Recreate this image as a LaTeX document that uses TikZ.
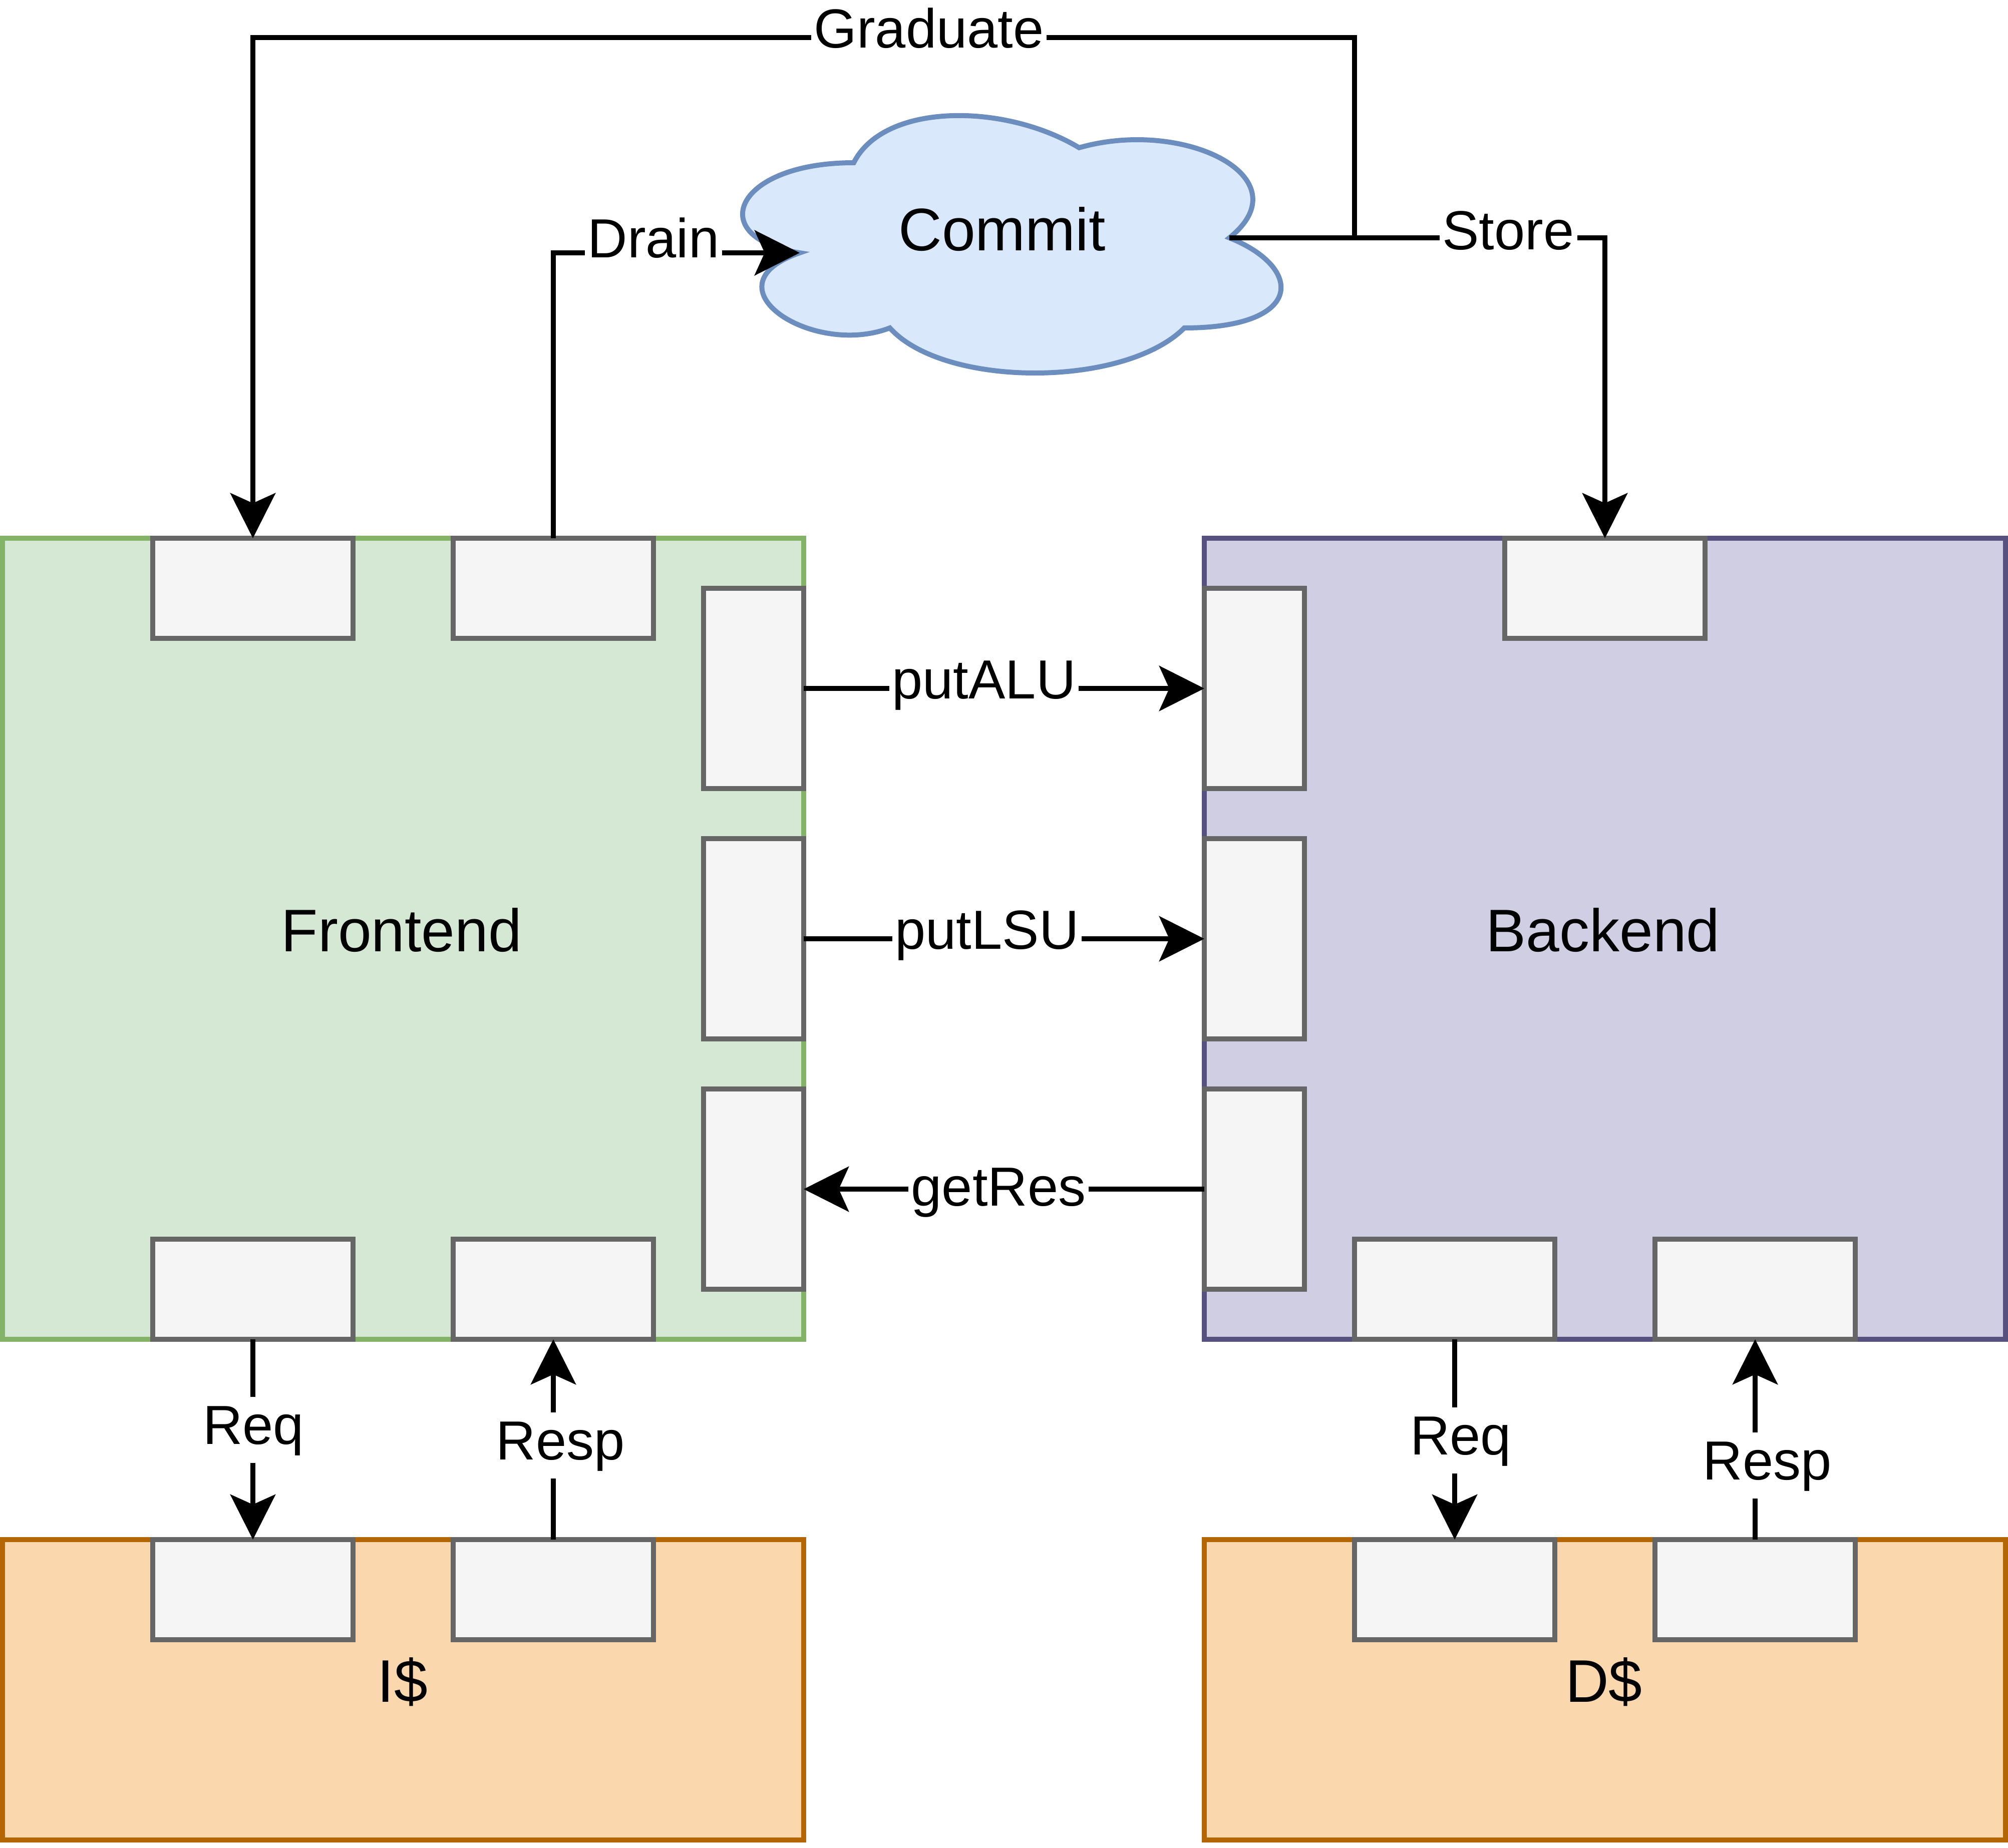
\documentclass[tikz,border=0pt]{standalone}
\usepackage{fontspec}
\setmainfont{Liberation Sans}
\usetikzlibrary{arrows.meta}
\definecolor{feFill}{HTML}{D5E8D4}
\definecolor{feLine}{HTML}{82B366}
\definecolor{beFill}{HTML}{D0CEE2}
\definecolor{beLine}{HTML}{56517E}
\definecolor{caFill}{HTML}{FAD7AC}
\definecolor{caLine}{HTML}{B46504}
\definecolor{ptFill}{HTML}{F5F5F5}
\definecolor{ptLine}{HTML}{666666}
\definecolor{clFill}{HTML}{DAE8FC}
\definecolor{clLine}{HTML}{6C8EBF}
\tikzset{
  box/.style={rectangle, line width=1pt, inner sep=0pt, outer sep=0pt},
  hport/.style={box, fill=ptFill, draw=ptLine, minimum width=40pt, minimum height=20pt},
  vport/.style={box, fill=ptFill, draw=ptLine, minimum width=20pt, minimum height=40pt},
  conn/.style={line width=1pt, draw=black},
  arr/.style={conn, -{Stealth[length=9pt,width=9pt,inset=2pt]}},
  lbl/.style={font=\fontsize{11}{13}\selectfont, fill=white, inner xsep=0.6pt, inner ysep=1.4pt,
              text height=8pt, text depth=2.4pt, anchor=base},
  title/.style={font=\fontsize{12}{14}\selectfont, inner sep=0pt, anchor=base}
}
\begin{document}
\begin{tikzpicture}[x=1pt, y=-1pt]
\useasboundingbox (0,0) rectangle (401,369);
% main blocks
\node[box, fill=feFill, draw=feLine, minimum width=160pt, minimum height=160pt] (front) at (80.5,187.5) {};
\node[box, fill=beFill, draw=beLine, minimum width=160pt, minimum height=160pt] (back) at (320.5,187.5) {};
\node[box, fill=caFill, draw=caLine, minimum width=160pt, minimum height=60pt] (icache) at (80.5,337.5) {};
\node[box, fill=caFill, draw=caLine, minimum width=160pt, minimum height=60pt] (dcache) at (320.5,337.5) {};
% titles
\node[title] (tFront) at (80.2,190) {Frontend};
\node[title] (tBack) at (320.1,190) {Backend};
\node[title] (tI) at (80.4,339.9) {I\$};
\node[title] (tD) at (320.3,339.9) {D\$};
% ports
\node[hport] (ft1) at (50.5,117.5) {};
\node[hport] (ft2) at (110.5,117.5) {};
\node[vport] (fr1) at (150.5,137.5) {};
\node[vport] (fr2) at (150.5,187.5) {};
\node[vport] (fr3) at (150.5,237.5) {};
\node[hport] (fb1) at (50.5,257.5) {};
\node[hport] (fb2) at (110.5,257.5) {};
\node[vport] (bl1) at (250.5,137.5) {};
\node[vport] (bl2) at (250.5,187.5) {};
\node[vport] (bl3) at (250.5,237.5) {};
\node[hport] (bt1) at (320.5,117.5) {};
\node[hport] (bb1) at (290.5,257.5) {};
\node[hport] (bb2) at (350.5,257.5) {};
\node[hport] (it1) at (50.5,317.5) {};
\node[hport] (it2) at (110.5,317.5) {};
\node[hport] (dt1) at (290.5,317.5) {};
\node[hport] (dt2) at (350.5,317.5) {};
% cloud
\path[fill=clFill, draw=clLine, line width=1pt]
  (170.5,32.5)
  .. controls (146.5,32.5) and (140.5,47.5) .. (159.7,50.5)
  .. controls (140.5,57.1) and (162.1,71.5) .. (177.7,65.5)
  .. controls (188.5,77.5) and (224.5,77.5) .. (236.5,65.5)
  .. controls (260.5,65.5) and (260.5,53.5) .. (245.5,47.5)
  .. controls (260.5,35.5) and (236.5,23.5) .. (215.5,29.5)
  .. controls (200.5,20.5) and (176.5,20.5) .. (170.5,32.5) -- cycle;
\coordinate (cloudL) at (159.7,50.5);
\coordinate (cloudR) at (245.5,47.5);
\node[title] (commit) at (200.1,50.1) {Commit};
% connectors
\draw[arr] (cloudR) -- (270.5,47.5) -- (270.5,7.5) -| (ft1.north);
\draw[arr] (cloudR) -| (bt1.north);
\draw[arr] (ft2.north) |- (cloudL);
\draw[arr] (fr1.east) -- (bl1.west);
\draw[arr] (fr2.east) -- (bl2.west);
\draw[arr] (bl3.west) -- (fr3.east);
\draw[arr] (fb1.south) -- (it1.north);
\draw[arr] (it2.north) -- (fb2.south);
\draw[arr] (bb1.south) -- (dt1.north);
\draw[arr] (dt2.north) -- (bb2.south);
% labels
\node[lbl] (lGrad) at (185.5,9.6) {Graduate};
\node[lbl] (lStore) at (301.2,49.8) {Store};
\node[lbl] (lDrain) at (130.5,51.5) {Drain};
\node[lbl] (lALU) at (196.5,139.5) {putALU};
\node[lbl] (lLSU) at (197.1,189.5) {putLSU};
\node[lbl] (lRes) at (199.4,240.8) {getRes};
\node[lbl] (lReqI) at (50.6,288.4) {Req};
\node[lbl] (lRespI) at (111.9,291.5) {Resp};
\node[lbl] (lReqD) at (291.7,290.5) {Req};
\node[lbl] (lRespD) at (352.9,295.5) {Resp};
\end{tikzpicture}
\end{document}
